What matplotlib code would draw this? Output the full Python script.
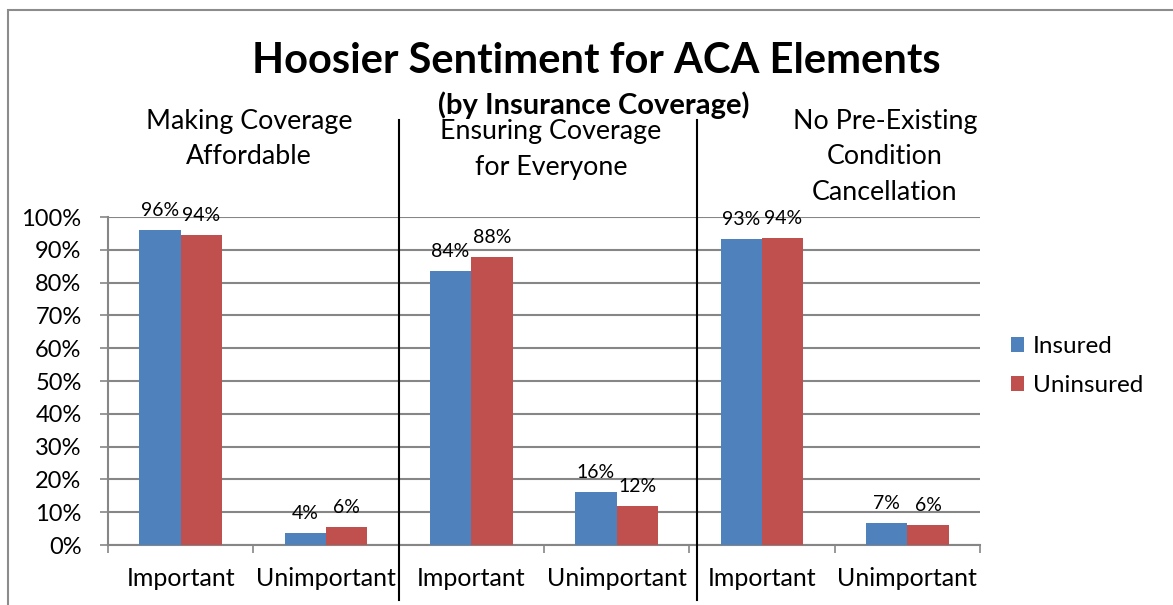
import matplotlib
matplotlib.use("Agg")
import matplotlib.pyplot as plt
import numpy as np
from matplotlib.lines import Line2D
from matplotlib.patches import Rectangle

categories = ["Important", "Unimportant", "Important", "Unimportant", "Important", "Unimportant"]
panels = ["Making Coverage\nAffordable", "Ensuring Coverage\nfor Everyone",
          "No Pre-Existing\nCondition\nCancellation"]
series = ["Insured", "Uninsured"]
insured = [95.9, 3.7, 83.6, 16.1, 93.2, 6.6]
uninsured = [94.4, 5.5, 87.8, 12.0, 93.6, 6.1]
yticks = [0, 10, 20, 30, 40, 50, 60, 70, 80, 90, 100]
title = "Hoosier Sentiment for ACA Elements"
subtitle = "(by Insurance Coverage)"

plt.rcParams['font.family'] = ['Lato', 'DejaVu Sans']
W, H = 1173, 605
fig = plt.figure(figsize=(W / 100, H / 100), dpi=100)


def fx(px):
    return px / W


def fy(py):
    return 1 - py / H


ax = fig.add_axes([fx(108), fy(545), fx(980) - fx(108), fy(217) - fy(545)])
x = np.arange(len(categories))
w = 0.285
blue, red = '#4F81BD', '#C0504D'
b1 = ax.bar(x - w / 2, insured, w, color=blue, label=series[0], zorder=3)
b2 = ax.bar(x + w / 2, uninsured, w, color=red, label=series[1], zorder=3)
ax.set_xlim(-0.5, len(categories) - 0.5)
ax.set_ylim(0, 100)
ax.set_yticks(yticks)
ax.set_yticklabels([f"{v}%" for v in yticks], fontsize=17)
ax.yaxis.grid(True, color='#868686', lw=1.5, zorder=0)
ax.tick_params(axis='y', length=6, width=1.2, color='#868686', pad=13)

ax.set_xticks(np.arange(-0.5, len(categories), 1.0))
ax.set_xticklabels([])
ax.set_xticks(x, minor=True)
ax.set_xticklabels(categories, minor=True, fontsize=18)
ax.tick_params(axis='x', which='major', length=6, width=1.2, color='#868686')
ax.tick_params(axis='x', which='minor', length=0, pad=16)

for s in ['top', 'right']:
    ax.spines[s].set_visible(False)
for s in ['left', 'bottom']:
    ax.spines[s].set_color('#868686')
    ax.spines[s].set_linewidth(1.5)

ax.bar_label(b1, labels=[f"{v:.0f}%" for v in insured], padding=8, fontsize=14)
ax.bar_label(b2, labels=[f"{v:.0f}%" for v in uninsured], padding=8, fontsize=14)

fig.text(fx(596), fy(61), title, ha='center', va='center', fontsize=30, fontweight='bold')
fig.text(fx(594), fy(105), subtitle, ha='center', va='center', fontsize=21, fontweight='bold')

panel_pos = [(249, 121), (551, 131), (885, 121)]
for (px, py), txt in zip(panel_pos, panels):
    for i, line in enumerate(txt.split("\n")):
        fig.text(fx(px), fy(py + 36 * i), line, ha='center', va='center', fontsize=19.3)

for px in [399, 697]:
    fig.add_artist(Line2D([fx(px), fx(px)], [fy(120), fy(600)], color='black', lw=1.5))

fig.add_artist(Rectangle((fx(8), -0.1), 2, fy(10) + 0.1, transform=fig.transFigure,
                         fill=False, edgecolor='#8c8c8c', lw=1.5))

fig.legend(handles=[b1, b2], labels=series, loc='center left',
           bbox_to_anchor=(fx(1011), fy(366)), frameon=False, fontsize=17.5,
           handlelength=0.55, handleheight=0.55, handletextpad=0.35, labelspacing=0.75,
           borderpad=0, borderaxespad=0)

fig.savefig("out.png", dpi=100)
